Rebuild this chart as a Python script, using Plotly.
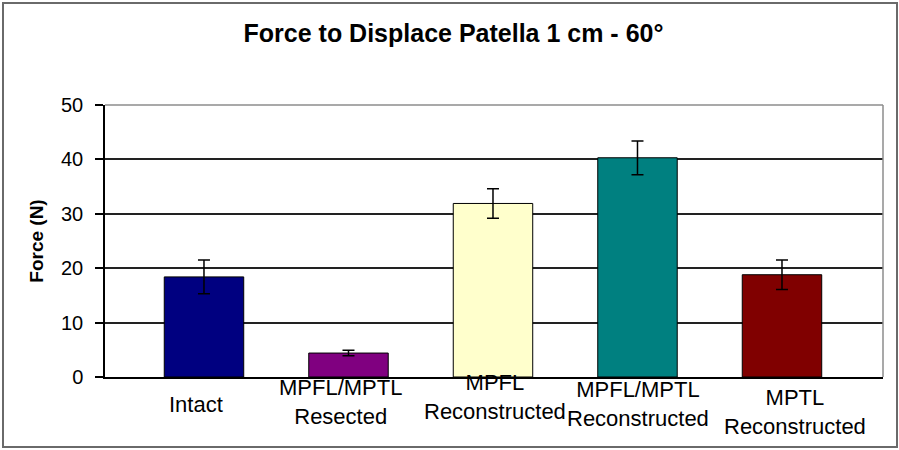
import plotly.graph_objects as go

categories = ["Intact", "MPFL/MPTL Resected", "MPFL Reconstructed",
              "MPFL/MPTL Reconstructed", "MPTL Reconstructed"]
label_text = ["Intact", "MPFL/MPTL<br>Resected", "MPFL<br>Reconstructed",
              "MPFL/MPTL<br>Reconstructed", "MPTL<br>Reconstructed"]
force_values = [18.4, 4.4, 31.9, 40.3, 18.8]
force_errors = [3.1, 0.5, 2.7, 3.1, 2.7]
bar_colors = ["#000080", "#800080", "#FFFFCC", "#008080", "#800000"]
y_ticks = [0, 10, 20, 30, 40, 50]

# label placement tweaks (pixels) to mimic the original staggered labels
label_xshift = [-8, -8, 2, 1, 13]
label_yshift = [-27, -25, -20, -27, -35]

W, H = 899, 450
ML, MR, MT, MB = 105, 16, 105, 73
PW, PH = W - ML - MR, H - MT - MB

def px_to_paper_x(px):
    return (px - ML) / PW

def px_to_paper_y(py):
    return (H - MB - py) / PH

FONT = "Liberation Sans, Arial, sans-serif"

fig = go.Figure()
fig.add_trace(go.Bar(
    x=categories,
    y=force_values,
    width=0.55,
    marker=dict(color=bar_colors, line=dict(color="black", width=1)),
    error_y=dict(type="data", array=force_errors, visible=True,
                 color="black", thickness=1.5, width=6),
    showlegend=False,
    hoverinfo="skip",
))

annotations = []
for cat, txt, dx, dy in zip(categories, label_text, label_xshift, label_yshift):
    annotations.append(dict(
        x=cat, y=0, xref="x", yref="paper", text=txt, showarrow=False,
        xanchor="center", yanchor="middle", xshift=dx, yshift=dy,
        font=dict(family=FONT, size=22, color="black"), align="center",
    ))

shapes = [
    # plot-area top and right borders (gray)
    dict(type="line", xref="paper", yref="paper", x0=0, x1=1, y0=1, y1=1,
         line=dict(color="#8c8c8c", width=1.5), layer="above"),
    dict(type="line", xref="paper", yref="paper", x0=1, x1=1, y0=0, y1=1,
         line=dict(color="#8c8c8c", width=1.5), layer="above"),
    # outer chart frame
    dict(type="rect", xref="paper", yref="paper",
         x0=px_to_paper_x(3), x1=px_to_paper_x(897),
         y0=px_to_paper_y(447), y1=px_to_paper_y(3),
         line=dict(color="#6a6a6a", width=2), fillcolor="rgba(0,0,0,0)",
         layer="above"),
]

fig.update_layout(
    width=W, height=H,
    margin=dict(l=ML, r=MR, t=MT, b=MB),
    paper_bgcolor="white", plot_bgcolor="white",
    title=dict(text="<b>Force to Displace Patella 1 cm - 60°</b>",
               x=453.5 / W, xanchor="center", xref="container",
               y=1 - 33 / H, yanchor="middle", yref="container",
               font=dict(family=FONT, size=25, color="black")),
    annotations=annotations,
    shapes=shapes,
    bargap=0.45,
)

fig.update_xaxes(
    type="category",
    range=[-0.685, 4.699],
    showticklabels=False,
    showline=True, linecolor="black", linewidth=1.5,
    showgrid=False, ticks="",
)

fig.update_yaxes(
    range=[0, 50],
    tickvals=y_ticks,
    ticktext=[str(v) for v in y_ticks],
    showline=True, linecolor="black", linewidth=1.5,
    ticks="outside", ticklen=8, tickwidth=1.5, tickcolor="black",
    ticklabelstandoff=8,
    showgrid=True, gridcolor="#222222", gridwidth=1.5,
    zeroline=False,
    tickfont=dict(family=FONT, size=20, color="black"),
    title=dict(text="<b>Force (N)</b>", standoff=12,
               font=dict(family=FONT, size=19, color="black")),
)

fig.write_html("out.html",
               config={"displayModeBar": False},
               post_script="document.body.style.margin='0';document.body.style.overflow='hidden';")
